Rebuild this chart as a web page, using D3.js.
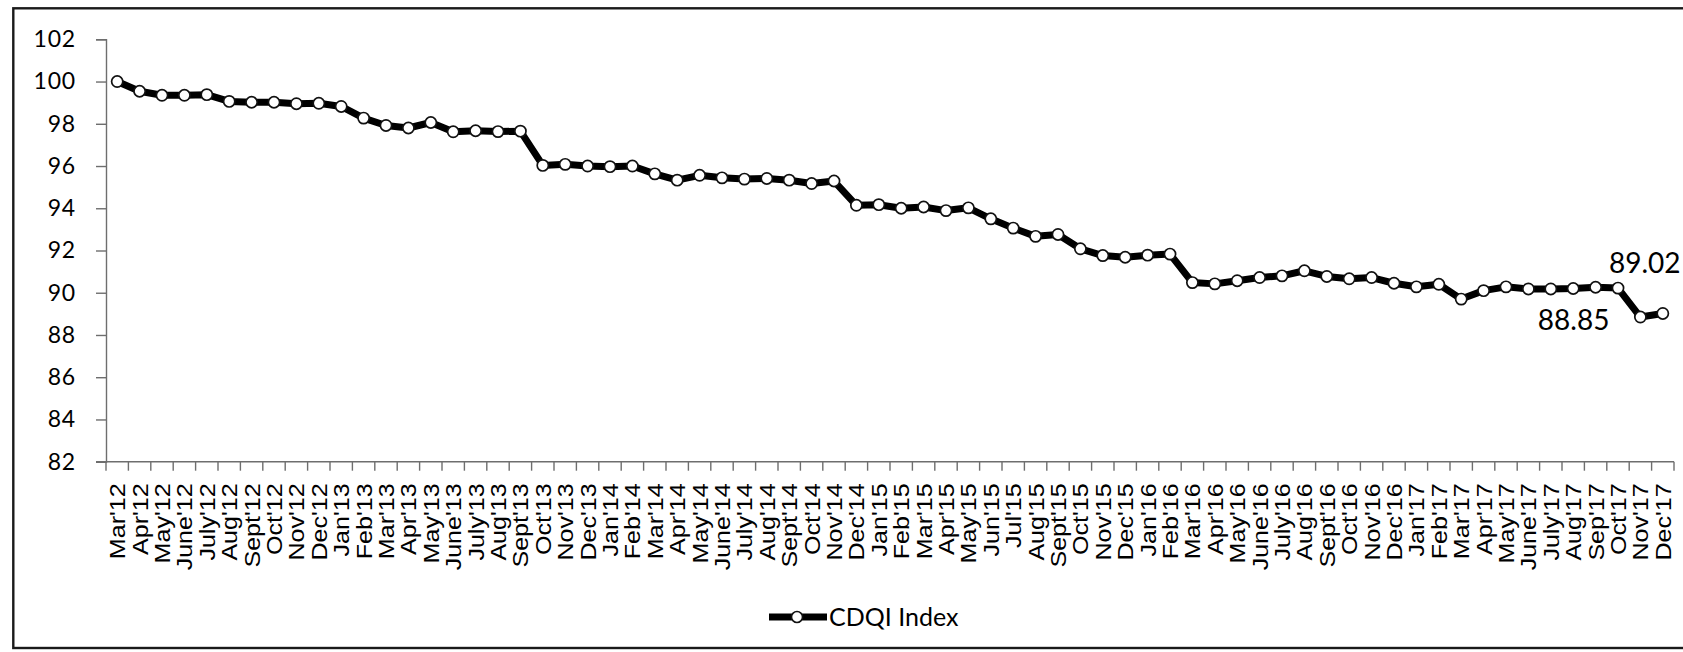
<!DOCTYPE html>
<html>
<head>
<meta charset="utf-8">
<script src="https://cdn.jsdelivr.net/npm/d3@7"></script>
<style>
  html, body { margin: 0; padding: 0; background: #fff; }
  svg { display: block; }
</style>
</head>
<body>
<svg id="chart" width="1683" height="652"></svg>
<script>
// Monthly CDQI index, March 2012 – December 2017
const months = [
  "Mar'12","Apr'12","May'12","June'12","July'12","Aug'12","Sept'12","Oct'12","Nov'12","Dec'12",
  "Jan'13","Feb'13","Mar'13","Apr'13","May'13","June'13","July'13","Aug'13","Sept'13","Oct'13","Nov'13","Dec'13",
  "Jan'14","Feb'14","Mar'14","Apr'14","May'14","June'14","July'14","Aug'14","Sept'14","Oct'14","Nov'14","Dec'14",
  "Jan'15","Feb'15","Mar'15","Apr'15","May'15","Jun'15","Jul'15","Aug'15","Sept'15","Oct'15","Nov'15","Dec'15",
  "Jan'16","Feb'16","Mar'16","Apr'16","May'16","June'16","July'16","Aug'16","Sept'16","Oct'16","Nov'16","Dec'16",
  "Jan'17","Feb'17","Mar'17","Apr'17","May'17","June'17","July'17","Aug'17","Sep'17","Oct'17","Nov'17","Dec'17"
];

const cdqi = [
  100.00, 99.54, 99.35, 99.35, 99.38, 99.06, 99.02, 99.02, 98.95, 98.97,
  98.82, 98.27, 97.92, 97.80, 98.06, 97.62, 97.67, 97.63, 97.65, 96.03, 96.08, 96.00,
  95.97, 96.00, 95.63, 95.33, 95.56, 95.44, 95.38, 95.41, 95.33, 95.17, 95.29, 94.14,
  94.17, 94.00, 94.06, 93.89, 94.02, 93.50, 93.06, 92.67, 92.76, 92.08, 91.76, 91.68,
  91.78, 91.83, 90.48, 90.42, 90.57, 90.72, 90.80, 91.04, 90.77, 90.66, 90.72, 90.45,
  90.28, 90.40, 89.70, 90.10, 90.28, 90.18, 90.18, 90.20, 90.26, 90.22, 88.85, 89.02
];

const yTicks = [82, 84, 86, 88, 90, 92, 94, 96, 98, 100, 102];

// Points that carry a value label, with where the label sits relative to the point
const labelled = [
  { month: "Nov'17", dx: -31, dy: 13, anchor: "end" },
  { month: "Dec'17", dx: -18, dy: -40, anchor: "middle" }
];

const seriesName = "CDQI Index";

const svg = d3.select("#chart");
const W = 1683, H = 652;

const plot = { left: 106, right: 1674, top: 39.3, bottom: 461.7 };

const x = d3.scaleBand().domain(months).range([plot.left, plot.right]).padding(0);
const y = d3.scaleLinear().domain([82, 102]).range([plot.bottom, plot.top]);
const cx = m => x(m) + x.bandwidth() / 2;

// Outer chart frame
svg.append("rect")
  .attr("x", 13.3).attr("y", 8.3)
  .attr("width", W + 10).attr("height", 648 - 8.3)
  .attr("fill", "none").attr("stroke", "#1a1a1a").attr("stroke-width", 2.4);

const axisColor = "#6e6e6e";

// Value axis
const yAxis = svg.append("g")
  .attr("transform", `translate(${plot.left},0)`)
  .call(d3.axisLeft(y).tickValues(yTicks).tickSize(10).tickPadding(20).tickFormat(d3.format("d")));
yAxis.select(".domain").attr("stroke", axisColor).attr("stroke-width", 1.4);
yAxis.selectAll(".tick line").attr("stroke", axisColor).attr("stroke-width", 1.4);
yAxis.selectAll(".tick text")
  .attr("fill", "#000")
  .style("font-family", "Lato, 'Open Sans', sans-serif")
  .style("font-size", "23px")
  .style("letter-spacing", "0.8px");

// Category axis: labels centred in each month, tick marks on month boundaries
const xAxis = svg.append("g")
  .attr("transform", `translate(0,${plot.bottom})`)
  .call(d3.axisBottom(x).tickSize(0).tickPadding(0));
xAxis.select(".domain").remove();
xAxis.selectAll(".tick text")
  .attr("fill", "#000")
  .attr("text-anchor", "end")
  .attr("transform", "rotate(-90) scale(1.14,1)")
  .attr("x", -19)
  .attr("y", 0)
  .attr("dy", "0.36em")
  .style("font-family", "'Liberation Sans', Arial, sans-serif")
  .style("font-size", "22px");

const boundaries = months.map(m => x(m)).concat([x(months[months.length - 1]) + x.bandwidth()]);
xAxis.selectAll(".bound")
  .data(boundaries)
  .join("line")
  .attr("class", "bound")
  .attr("x1", d => d).attr("x2", d => d)
  .attr("y1", 0).attr("y2", 9)
  .attr("stroke", axisColor).attr("stroke-width", 1.4);
xAxis.append("line")
  .attr("x1", plot.left - 10).attr("x2", plot.right)
  .attr("y1", 0).attr("y2", 0)
  .attr("stroke", axisColor).attr("stroke-width", 1.4);

// Series line with circle markers
const data = months.map((m, i) => ({ month: m, value: cdqi[i] }));

svg.append("path")
  .datum(data)
  .attr("fill", "none")
  .attr("stroke", "#000")
  .attr("stroke-width", 7)
  .attr("stroke-linejoin", "round")
  .attr("d", d3.line().x(d => cx(d.month)).y(d => y(d.value)));

svg.append("g")
  .selectAll("circle")
  .data(data)
  .join("circle")
  .attr("cx", d => cx(d.month))
  .attr("cy", d => y(d.value))
  .attr("r", 5.6)
  .attr("fill", "#fff")
  .attr("stroke", "#111")
  .attr("stroke-width", 1.7);

// Value labels
svg.append("g")
  .selectAll("text")
  .data(labelled)
  .join("text")
  .attr("x", d => cx(d.month) + d.dx)
  .attr("y", d => y(cdqi[months.indexOf(d.month)]) + d.dy)
  .attr("text-anchor", d => d.anchor)
  .attr("fill", "#000")
  .style("font-family", "Lato, 'Open Sans', sans-serif")
  .style("font-size", "28px")
  .text(d => cdqi[months.indexOf(d.month)].toFixed(2));

// Legend
const legend = svg.append("g").attr("transform", "translate(769,617)");
legend.append("line")
  .attr("x1", 0).attr("x2", 58).attr("y1", 0).attr("y2", 0)
  .attr("stroke", "#000").attr("stroke-width", 7);
legend.append("circle")
  .attr("cx", 28).attr("cy", 0).attr("r", 5.5)
  .attr("fill", "#fff").attr("stroke", "#111").attr("stroke-width", 1.6);
legend.append("text")
  .attr("x", 60).attr("y", 9)
  .attr("fill", "#000")
  .style("font-family", "Lato, 'Open Sans', sans-serif")
  .style("font-size", "25px")
  .text(seriesName);
</script>
</body>
</html>
